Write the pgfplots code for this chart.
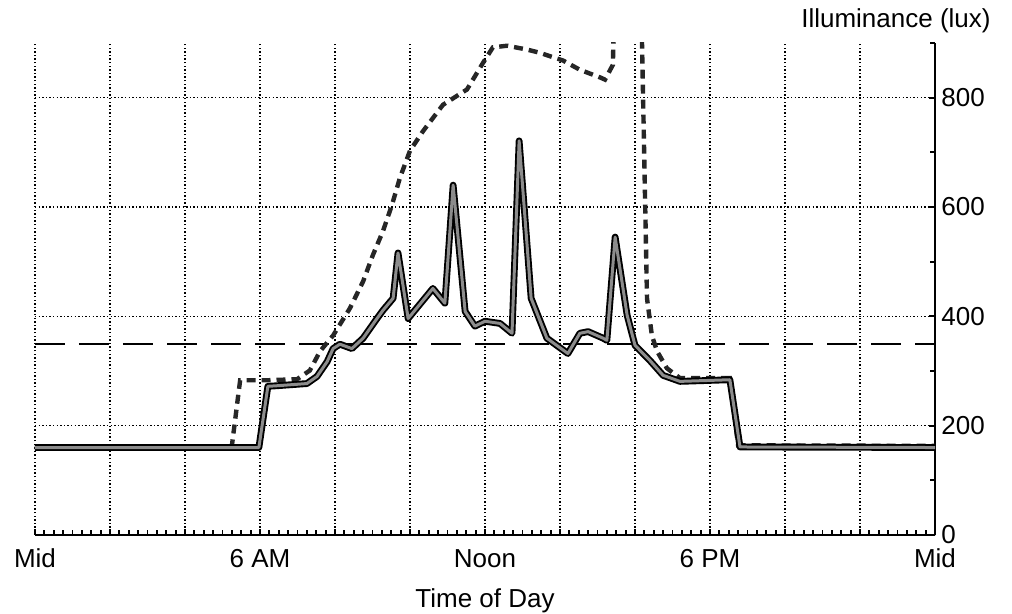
\documentclass[border=0pt]{standalone}
\usepackage{pgfplots}
\pgfplotsset{compat=1.18}
\usepackage{fontspec}
\setmainfont{Liberation Sans}
\begin{document}
\begin{tikzpicture}
\useasboundingbox (-17.5pt,-39.5pt) rectangle (488.5pt,267.5pt);
\begin{axis}[
  scale only axis, width=450pt, height=246pt,
  at={(0,0)}, anchor=south west,
  xmin=0, xmax=24, ymin=0, ymax=900,
  axis x line*=bottom, axis y line*=right,
  xtick={0,2,...,24},
  xticklabels={Mid,,,6 AM,,,Noon,,,6 PM,,,Mid},
  minor x tick num=7,
  ytick={0,200,...,800},
  minor ytick={100,300,500,700,900},
  tick align=inside,
  major tick length=3pt, minor tick length=2.5pt,
  grid=major,
  major grid style={black, line width=0.7pt, dash pattern=on 0.7pt off 1.1pt},
  tick style={black, line width=0.9pt},
  axis line style={black, line width=1.1pt},
  /pgf/number format/assume math mode=true,
  tick label style={font=\fontsize{13pt}{15pt}\selectfont},
  xticklabel style={anchor=base, inner sep=0pt, yshift=-16.5pt},
  yticklabel style={anchor=west, inner sep=0pt, xshift=3pt},
  clip=true,
]
% reference level
\addplot[black, line width=1.1pt, dash pattern=on 15pt off 7pt] coordinates {(0,350) (24,350)};
% dashed series
\addplot[black!85, line width=2.2pt, dash pattern=on 4.5pt off 3pt] coordinates {
(0,160) (5.2,160) (5.25,163) (5.47,283) (6.19,283) (6.99,285) (7.33,301) (7.6,336) (7.95,365)
(8.4,415) (8.75,464) (9.01,512) (9.28,556) (9.52,604) (9.73,653) (10.0,703)
(10.35,739) (10.88,787) (11.52,815) (11.95,864) (12.21,892) (12.59,895) (13.12,888)
(13.47,882) (13.68,877) (14.08,868) (14.53,851) (15.07,837) (15.2,833) (15.41,860)
(15.49,1100) (16.13,1100) (16.32,433) (16.45,365) (16.59,336) (16.85,305) (17.2,287)
(18.53,287) (18.75,164) (24,163)
};
% solid series (outline + fill)
\addplot[black, line width=3.4pt, line join=round] coordinates {
(0,160) (5.97,160) (6.21,272) (6.45,273) (7.25,277) (7.52,290) (7.79,317) (7.95,341)
(8.13,349) (8.45,341) (8.75,360) (9.12,396) (9.28,411) (9.55,433) (9.68,516) (9.95,396)
(10.61,451) (10.93,424) (11.15,640) (11.47,409) (11.73,382) (12.0,391) (12.4,387)
(12.72,369) (12.91,721) (13.23,433) (13.65,360) (14.21,332) (14.53,369) (14.75,372)
(15.15,360) (15.25,356) (15.47,545) (15.79,402) (16.0,347) (16.4,319) (16.75,292)
(17.2,281) (18.53,284) (18.8,161) (24,160)
};
\addplot[black!45, line width=1.5pt, line join=round] coordinates {
(0,160) (5.97,160) (6.21,272) (6.45,273) (7.25,277) (7.52,290) (7.79,317) (7.95,341)
(8.13,349) (8.45,341) (8.75,360) (9.12,396) (9.28,411) (9.55,433) (9.68,516) (9.95,396)
(10.61,451) (10.93,424) (11.15,640) (11.47,409) (11.73,382) (12.0,391) (12.4,387)
(12.72,369) (12.91,721) (13.23,433) (13.65,360) (14.21,332) (14.53,369) (14.75,372)
(15.15,360) (15.25,356) (15.47,545) (15.79,402) (16.0,347) (16.4,319) (16.75,292)
(17.2,281) (18.53,284) (18.8,161) (24,160)
};
\end{axis}
\node[anchor=base east, inner sep=0pt, font=\fontsize{13pt}{15pt}\selectfont] at (478pt,253.5pt) {Illuminance (lux)};
\node[anchor=base, inner sep=0pt, font=\fontsize{13pt}{15pt}\selectfont] at (225pt,-36.5pt) {Time of Day};
\end{tikzpicture}
\end{document}
